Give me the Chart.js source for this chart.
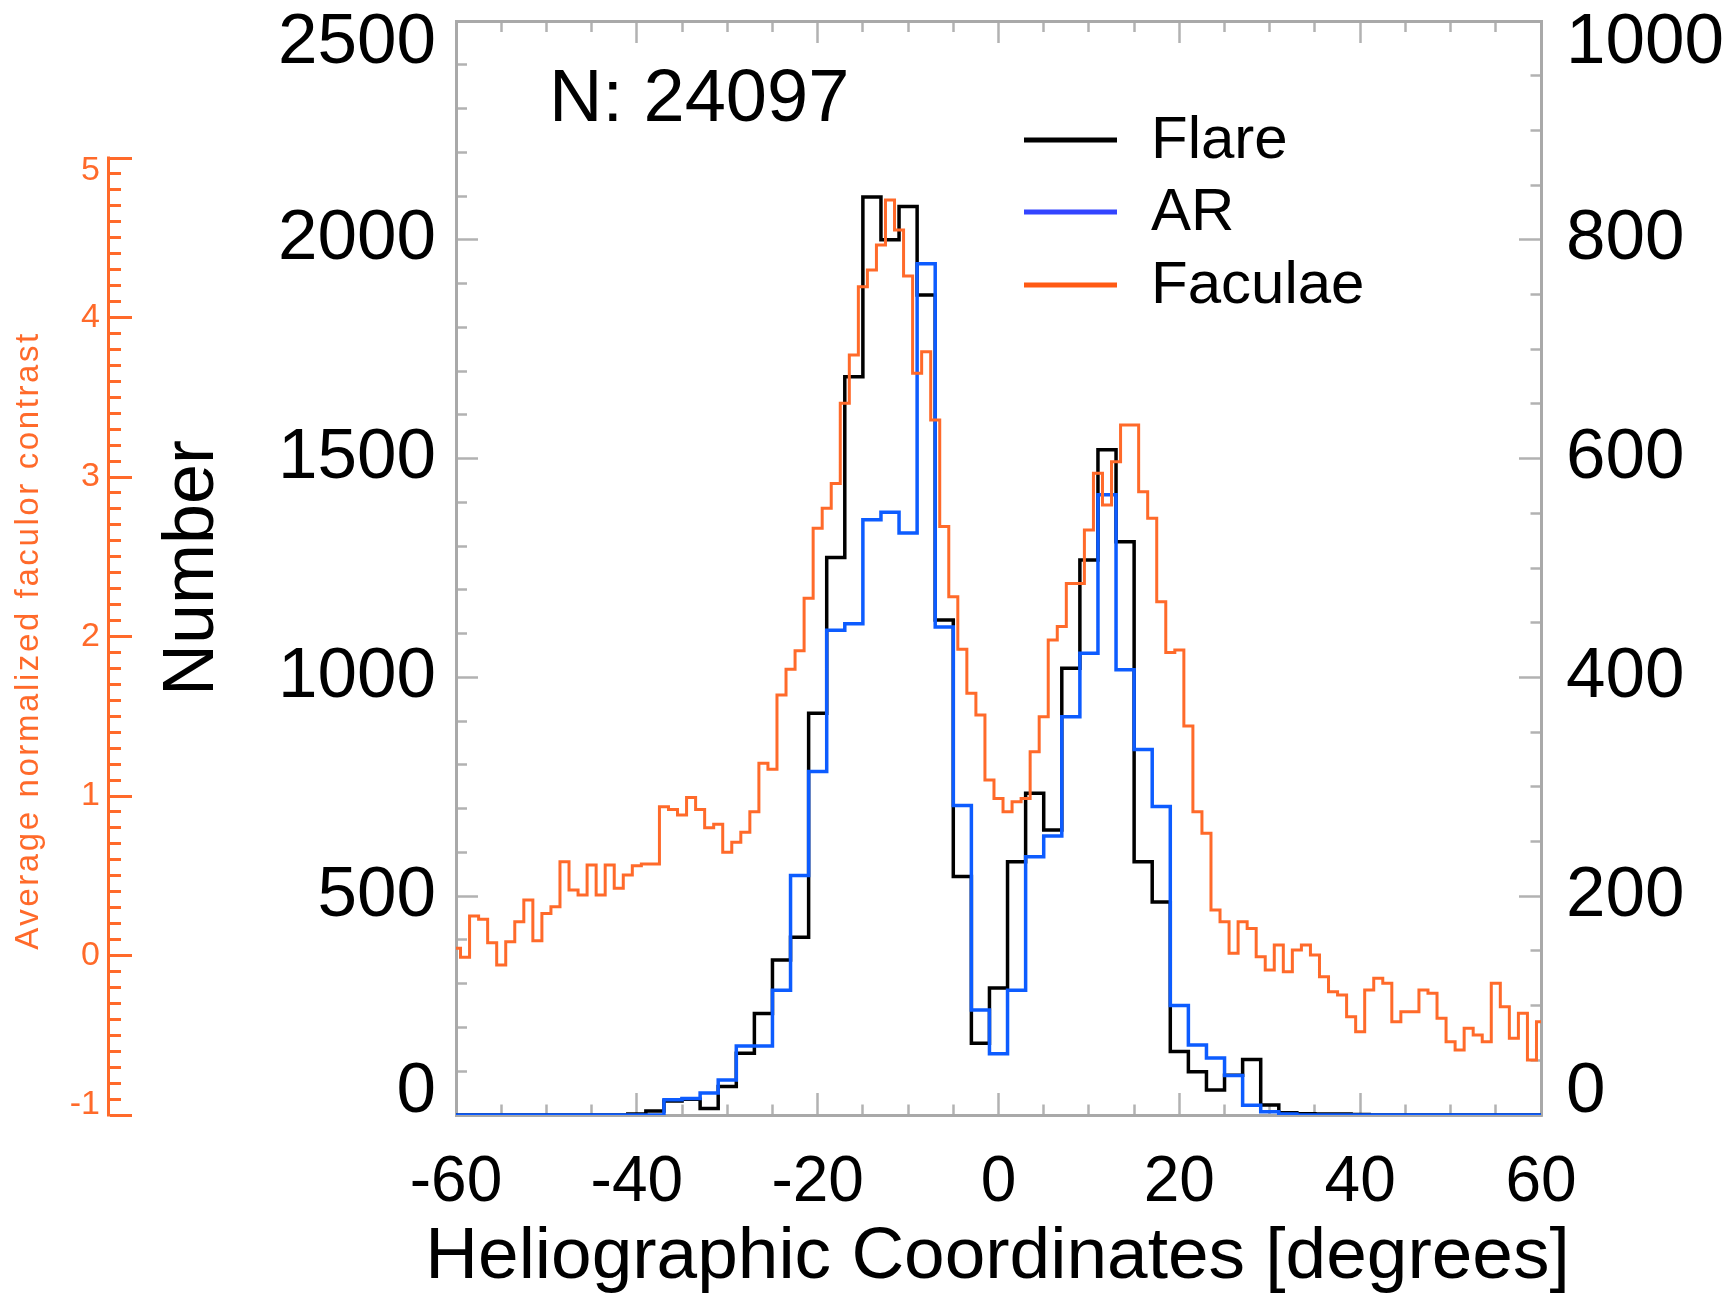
<!DOCTYPE html>
<html>
<head>
<meta charset="utf-8">
<script src="https://cdn.jsdelivr.net/npm/chart.js@4.4.1/dist/chart.umd.min.js"></script>
<style>
html,body{margin:0;padding:0;background:#ffffff;}
#wrap{width:1731px;height:1301px;position:relative;}
</style>
</head>
<body>
<div id="wrap"><canvas id="c"></canvas></div>
<script>
// ---------- DATA ----------
const flareDeg = [-60,-58,-56,-54,-52,-50,-48,-46,-44,-42,-40,-38,-36,-34,-32,-30,-28,-26,-24,-22,-20,-18,-16,-14,-12,-10,-8,-6,-4,-2,0,2,4,6,8,10,12,14,16,18,20,22,24,26,28,30,32,34,36,38,40,42,44,46,48,50,52,54,56,58,60];
const flareCounts = [0,0,0,0,0,0,0,0,0,0,
  2,9,32,36,15,65,141,232,354,406,
  918,1274,1687,2098,2000,2076,1874,1131,545,164,
  290,579,735,651,1021,1268,1520,1310,579,487,
  145,99,57,91,127,23,5,3,2,2,
  1,0,0,0,0,0,0,0,0,0,0];
const arCounts = [0,0,0,0,0,0,0,0,0,0,0,0,
  14,15,20,32,63,63,114,219,314,443,449,544,551,532,778,446,283,96,56,114,236,255,364,422,567,407,334,282,100,64,52,36,9,3,1,
  0,0,0,0,0,0,0,0,0,0,0,0,0,0];
const faculaeDeg = [-60,-59,-58,-57,-56,-55,-54,-53,-52,-51,-50,-49,-48,-47,-46,-45,-44,-43,-42,-41,-40,-39,-38,-37,-36,-35,-34,-33,-32,-31,-30,-29,-28,-27,-26,-25,-24,-23,-22,-21,-20,-19,-18,-17,-16,-15,-14,-13,-12,-11,-10,-9,-8,-7,-6,-5,-4,-3,-2,-1,0,1,2,3,4,5,6,7,8,9,10,11,12,13,14,15,16,17,18,19,20,21,22,23,24,25,26,27,28,29,30,31,32,33,34,35,36,37,38,39,40,41,42,43,44,45,46,47,48,49,50,51,52,53,54,55,56,57,58,59,60];
const faculaeContrast = [
  0.045,-0.011,0.248,0.227,0.080,-0.060,0.087,0.212,0.348,0.093,
  0.264,0.306,0.588,0.411,0.379,0.567,0.379,0.567,0.421,0.505,
  0.563,0.574,0.574,0.933,0.916,0.881,0.990,0.916,0.801,0.823,
  0.647,0.710,0.772,0.902,1.205,1.167,1.633,1.794,1.911,2.240,
  2.678,2.804,2.960,3.462,3.765,4.193,4.298,4.455,4.737,4.549,
  4.260,3.650,3.786,3.357,2.689,2.250,1.920,1.644,1.508,1.100,
  0.985,0.902,0.964,0.985,1.278,1.497,1.978,2.062,2.333,2.333,
  2.668,3.023,2.824,3.096,3.326,3.326,2.908,2.741,2.218,1.900,
  1.915,1.439,0.902,0.766,0.285,0.212,0.014,0.212,0.170,-0.008,
  -0.091,0.066,-0.102,0.034,0.066,0.003,-0.133,-0.227,-0.248,-0.384,
  -0.478,-0.216,-0.143,-0.174,-0.415,-0.352,-0.352,-0.216,-0.237,-0.394,
  -0.540,-0.592,-0.456,-0.498,-0.540,-0.174,-0.321,-0.519,-0.362,-0.655,
  -0.415];

const degTickLabels = [-60,-40,-20,0,20,40,60];
const numberTickLabels = [0,500,1000,1500,2000,2500];
const arTickLabels = [0,200,400,600,800,1000];
const contrastTickLabels = [-1,0,1,2,3,4,5];

const seriesNames = ['Flare','AR','Faculae'];
const annotationText = 'N: 24097';
const xTitle = 'Heliographic Coordinates [degrees]';
const yTitle = 'Number';
const facTitle = 'Average normalized faculor contrast';

// ---------- STYLE ----------
const FONT = "'Liberation Sans', Arial, Helvetica, sans-serif";
const AXIS_GRAY = '#a9a9a9';
const TICK_GRAY = '#b2b2b2';
const ORANGE = '#ff6a2a';
const BLUE = '#0d5cff';

const near = (a, b) => Math.abs(a - b) < 1e-6;
const inList = (v, list) => list.some(t => near(t, v));

// minor tick dash: startsInner -> line drawn from inside toward the axis
function tickDash(list, startsInner, minorLen) {
  return {
    tickBorderDash: c => (!c.tick || inList(c.tick.value, list)) ? [] : (startsInner ? [minorLen, 30] : [minorLen, 100]),
    tickBorderDashOffset: c => (!c.tick || inList(c.tick.value, list)) ? 0 : (startsInner ? 30 : 0)
  };
}
function endLabel(v, list, top, bottom) {
  if (!inList(v, list)) return '';
  const s = String(Math.round(v));
  if (near(v, top)) return ['', s];
  if (near(v, bottom)) return [s, ''];
  return s;
}
function endFont(size, top, bottom, topLH, botLH) {
  return c => {
    const v = c.tick ? c.tick.value : NaN;
    let lh = 1.2;
    if (near(v, top)) lh = topLH + 'px';
    else if (near(v, bottom)) lh = botLH + 'px';
    return {family: FONT, size: size, lineHeight: lh};
  };
}
function fixBox(w, h) {
  return s => {
    if (w !== null) s.width = w;
    if (h !== null) s.height = h;
    s.paddingLeft = 0; s.paddingRight = 0; s.paddingTop = 0; s.paddingBottom = 0;
  };
}

const decor = {
  id: 'decor',
  afterDraw(chart) {
    const ctx = chart.ctx;
    const yF = chart.scales.yF;
    const xs = chart.scales.x;
    // orange axis line (only over -1..5)
    ctx.save();
    ctx.strokeStyle = ORANGE; ctx.lineWidth = 3;
    ctx.beginPath();
    ctx.moveTo(yF.right - 1.5, yF.getPixelForValue(-1) + 1.5);
    ctx.lineTo(yF.right - 1.5, yF.getPixelForValue(5) - 1.5);
    ctx.stroke();
    ctx.restore();
    // orange axis title
    ctx.save();
    ctx.translate(38, (yF.getPixelForValue(-1) + yF.getPixelForValue(5)) / 2 + 4);
    ctx.rotate(-Math.PI / 2);
    ctx.font = '33px ' + FONT;
    ctx.fillStyle = ORANGE;
    ctx.textAlign = 'center';
    ctx.textBaseline = 'alphabetic';
    try { ctx.letterSpacing = '2.6px'; } catch (e) {}
    ctx.fillText(facTitle, 0, 0);
    ctx.restore();
    // x axis title (wider than the axis, so drawn here without width limit)
    ctx.save();
    ctx.font = '73px ' + FONT;
    ctx.fillStyle = '#000';
    ctx.textAlign = 'center';
    ctx.textBaseline = 'middle';
    ctx.fillText(xTitle, (xs.left + xs.right) / 2 - 1, 1258);
    ctx.restore();
    // N annotation
    ctx.save();
    ctx.font = '74px ' + FONT;
    ctx.fillStyle = '#000';
    ctx.textAlign = 'left';
    ctx.textBaseline = 'alphabetic';
    ctx.fillText(annotationText, 549, 121);
    ctx.restore();
    // legend
    const legCols = ['#000000', '#3344ff', '#ff5a14'];
    const rowsY = [140, 212, 285];
    ctx.save();
    ctx.font = '60px ' + FONT;
    ctx.textAlign = 'left';
    ctx.textBaseline = 'middle';
    seriesNames.forEach((n, i) => {
      ctx.strokeStyle = legCols[i];
      ctx.lineWidth = 5;
      ctx.beginPath();
      ctx.moveTo(1024, rowsY[i]);
      ctx.lineTo(1117, rowsY[i]);
      ctx.stroke();
      ctx.fillStyle = '#000';
      ctx.fillText(n, 1151, rowsY[i] + 1);
    });
    ctx.restore();
  }
};

const chart = new Chart(document.getElementById('c'), {
  type: 'line',
  data: {
    datasets: [
      {label: seriesNames[0], data: flareDeg.map((d, i) => ({x: d, y: flareCounts[i]})),
       xAxisID: 'x', yAxisID: 'y', borderColor: '#000000', borderWidth: 3.5, stepped: 'middle',
       pointRadius: 0, fill: false, order: 3},
      {label: seriesNames[1], data: flareDeg.map((d, i) => ({x: d, y: arCounts[i]})),
       xAxisID: 'x', yAxisID: 'y2', borderColor: BLUE, borderWidth: 3.5, stepped: 'middle',
       pointRadius: 0, fill: false, order: 2},
      {label: seriesNames[2], data: faculaeDeg.map((d, i) => ({x: d, y: faculaeContrast[i]})),
       xAxisID: 'x', yAxisID: 'yF', borderColor: ORANGE, borderWidth: 3, stepped: 'middle',
       pointRadius: 0, fill: false, order: 1}
    ]
  },
  options: {
    responsive: true,
    maintainAspectRatio: false,
    animation: false,
    devicePixelRatio: 1,
    layout: {padding: 0, autoPadding: false},
    plugins: {legend: {display: false}, tooltip: {enabled: false}},
    scales: {
      x: {
        type: 'linear', position: 'bottom', min: -60, max: 60,
        afterFit: fixBox(null, 186),
        border: {display: true, color: AXIS_GRAY, width: 3},
        grid: Object.assign({drawOnChartArea: false, drawTicks: true, tickLength: -22, tickColor: TICK_GRAY, tickWidth: 2.5},
                            tickDash(degTickLabels, false, 12.5)),
        ticks: {stepSize: 5, autoSkip: false, maxRotation: 0, minRotation: 0, padding: 52, color: '#000',
                font: {family: FONT, size: 64},
                callback: v => inList(v, degTickLabels) ? String(Math.round(v)) : ''},
        title: {display: false, text: xTitle}
      },
      x2: {
        type: 'linear', axis: 'x', position: 'top', min: -60, max: 60,
        afterFit: fixBox(null, 21),
        border: {display: true, color: AXIS_GRAY, width: 3},
        grid: Object.assign({drawOnChartArea: false, drawTicks: true, tickLength: -22, tickColor: TICK_GRAY, tickWidth: 2.5},
                            tickDash(degTickLabels, true, 11)),
        ticks: {stepSize: 5, autoSkip: false, display: false, callback: v => ''}
      },
      y: {
        type: 'linear', position: 'left', weight: 0, min: 0, max: 2500,
        afterFit: fixBox(346, null),
        border: {display: true, color: AXIS_GRAY, width: 3},
        grid: Object.assign({drawOnChartArea: false, drawTicks: true, tickLength: -22, tickColor: TICK_GRAY, tickWidth: 2.5},
                            tickDash(numberTickLabels, true, 11)),
        ticks: {stepSize: 100, autoSkip: false, padding: 42, color: '#000',
                font: endFont(71, 2500, 0, 44, 46),
                callback: v => endLabel(v, numberTickLabels, 2500, 0)},
        title: {display: true, text: yTitle, color: '#000', font: {family: FONT, size: 72}, padding: {top: 40, bottom: 0}}
      },
      y2: {
        type: 'linear', position: 'right', weight: 0, min: 0, max: 1000,
        afterFit: fixBox(190, null),
        border: {display: true, color: AXIS_GRAY, width: 3},
        grid: Object.assign({drawOnChartArea: false, drawTicks: true, tickLength: -22, tickColor: TICK_GRAY, tickWidth: 2.5},
                            tickDash(arTickLabels, false, 12.5)),
        ticks: {stepSize: 50, autoSkip: false, padding: 47, color: '#000',
                font: endFont(71, 1000, 0, 44, 46),
                callback: v => endLabel(v, arTickLabels, 1000, 0)}
      },
      yF: {
        type: 'linear', position: 'left', weight: 10, min: -1, max: 5.859,
        afterFit: fixBox(110, null),
        afterBuildTicks: s => { s.ticks = s.ticks.filter(t => t.value <= 5.0001); },
        border: {display: false},
        grid: Object.assign({drawOnChartArea: false, drawTicks: true, tickLength: -22, tickColor: ORANGE, tickWidth: 3},
                            tickDash(contrastTickLabels, true, 11)),
        ticks: {stepSize: 0.1, autoSkip: false, padding: 32, color: ORANGE,
                font: endFont(34, 5, -1, 26, 20),
                callback: v => endLabel(v, contrastTickLabels, 5, -1)}
      }
    }
  },
  plugins: [decor]
});
</script>
</body>
</html>
